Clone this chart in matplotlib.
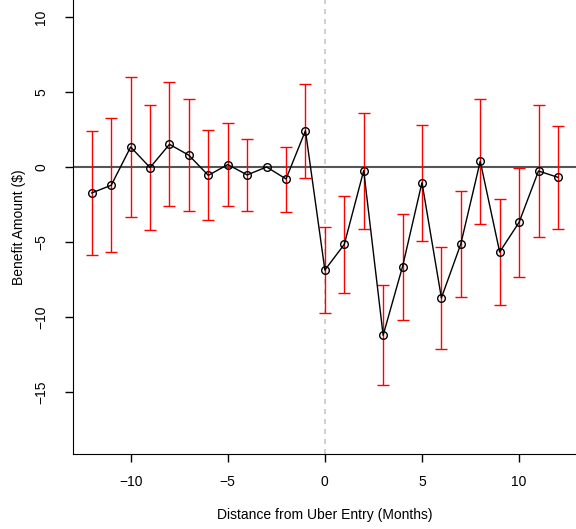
import matplotlib
matplotlib.use("Agg")
import matplotlib.pyplot as plt
import numpy as np

plt.rcParams["font.family"] = ["Liberation Sans", "DejaVu Sans"]

# months relative to Uber entry
months = np.arange(-12, 13)
benefit = [-1.73, -1.22, 1.33, -0.04, 1.51, 0.78, -0.56, 0.16, -0.53, 0.0, -0.80, 2.42,
           -6.87, -5.16, -0.24, -11.22, -6.64, -1.04, -8.73, -5.13, 0.38, -5.67, -3.69, -0.27, -0.69]
ci_upper = [2.42, 3.24, 6.00, 4.11, 5.64, 4.51, 2.44, 2.93, 1.89, 0.0, 1.36, 5.56,
            -3.98, -1.93, 3.60, -7.87, -3.13, 2.82, -5.31, -1.58, 4.53, -2.16, -0.07, 4.12, 2.76]
ci_lower = [-5.88, -5.68, -3.34, -4.19, -2.62, -2.96, -3.56, -2.60, -2.93, 0.0, -3.00, -0.73,
            -9.76, -8.42, -4.11, -14.56, -10.18, -4.96, -12.16, -8.69, -3.80, -9.20, -7.31, -4.64, -4.13]

benefit = np.array(benefit)
ci_upper = np.array(ci_upper)
ci_lower = np.array(ci_lower)

fig = plt.figure(figsize=(5.76, 5.29), dpi=100)
ax = fig.add_axes([0.127, 0.1422, 0.874, 0.8575])

ax.axvline(0, color="#c8c8c8", lw=1.2, ls=(0, (3, 3)), zorder=1)
ax.axhline(0, color="#555555", lw=1.5, zorder=1)

has_ci = ci_upper != ci_lower
ax.errorbar(months[has_ci], benefit[has_ci],
            yerr=[benefit[has_ci] - ci_lower[has_ci], ci_upper[has_ci] - benefit[has_ci]],
            fmt="none", ecolor="red", elinewidth=1, capsize=4, capthick=1, zorder=2)
ax.plot(months, benefit, color="black", lw=1, marker="o", ms=5.5,
        mfc="none", mec="black", mew=1, zorder=3)

ax.set_xlim(-12.96, 12.96)
ax.set_ylim(-19.12, 11.12)
ax.set_xticks([-10, -5, 0, 5, 10])
ax.set_xticklabels(["\u221210", "\u22125", "0", "5", "10"])
ax.set_yticks([-15, -10, -5, 0, 5, 10])
ax.set_yticklabels(["\u221215", "\u221210", "\u22125", "0", "5", "10"],
                   rotation=90, va="center")
ax.tick_params(direction="out", length=6, width=1, labelsize=10, pad=9)
ax.tick_params(axis="y", pad=12)
ax.spines["top"].set_visible(False)
ax.spines["right"].set_visible(False)
ax.set_xlabel("Distance from Uber Entry (Months)", fontsize=10, labelpad=14)
ax.set_ylabel("Benefit Amount ($)", fontsize=10, labelpad=6)

fig.savefig("out.png", dpi=100)
